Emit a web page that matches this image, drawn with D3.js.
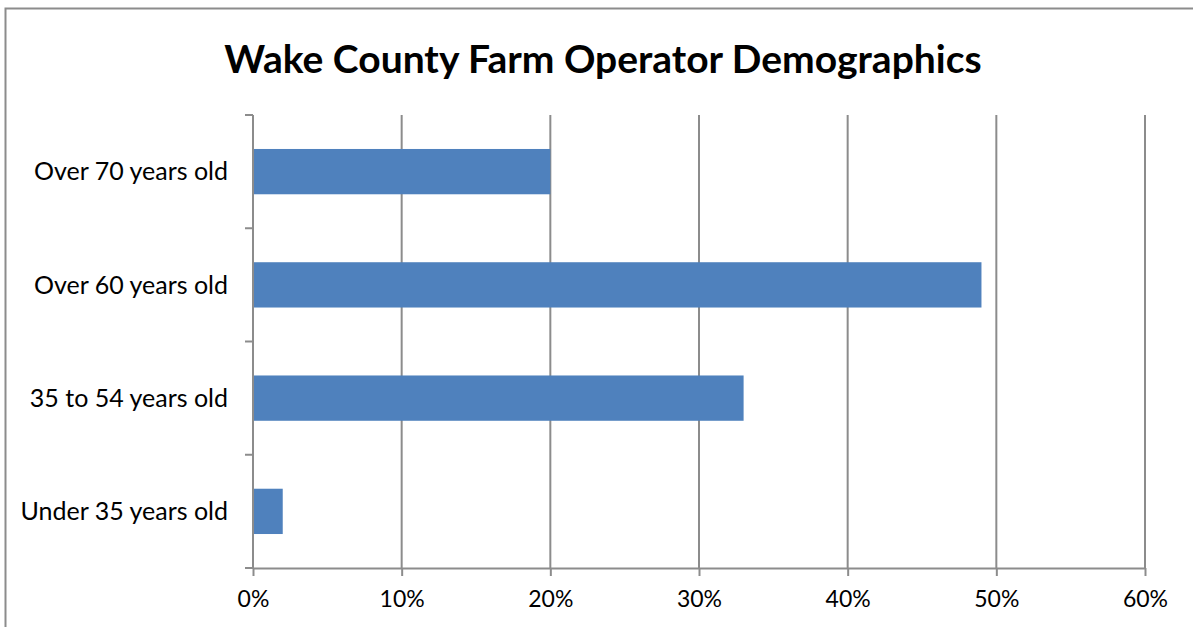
<!DOCTYPE html>
<meta charset="utf-8">
<html>
  <head>
    <title>Wake County Farm Operator Demographics</title>
    <style>
      body { margin: 0; background: #fff; }
      text { font-family: Lato, "Open Sans", sans-serif; fill: #000; }
      .grid line { stroke: #8c8c8c; stroke-width: 2px; }
      .axis path, .axis line { stroke: #8c8c8c; stroke-width: 2px; }
    </style>
    <script src="https://cdn.jsdelivr.net/npm/d3@7"></script>
  </head>
  <body>
    <div id="chart"></div>
    <script type="text/javascript">
    // data, bottom to top as in the picture
    var categories = ["Under 35 years old", "35 to 54 years old", "Over 60 years old", "Over 70 years old"];
    var values = [0.02, 0.33, 0.49, 0.20];
    var xTicks = [0, 0.1, 0.2, 0.3, 0.4, 0.5, 0.6];

    var width = 1193, height = 627;
    var plot = { left: 253, right: 1145, top: 115, bottom: 568 };

    var svg = d3.select("#chart").append("svg")
      .attr("width", width)
      .attr("height", height);

    // outer frame
    svg.append("rect")
      .attr("x", 5.5).attr("y", 8.5)
      .attr("width", 1200).attr("height", 700)
      .attr("fill", "none")
      .attr("stroke", "#8c8c8c")
      .attr("stroke-width", 2);

    svg.append("text")
      .attr("x", 603).attr("y", 73)
      .attr("text-anchor", "middle")
      .style("font-size", "39px")
      .style("font-weight", "bold")
      .text("Wake County Farm Operator Demographics");

    var x = d3.scaleLinear().domain([0, 0.6]).range([plot.left, plot.right]);
    var y = d3.scaleBand()
      .domain(categories.slice().reverse())
      .range([plot.top, plot.bottom])
      .paddingInner(0.6)
      .paddingOuter(0.3);

    // vertical gridlines
    svg.append("g").attr("class", "grid")
      .selectAll("line")
      .data(xTicks.slice(1))
      .enter().append("line")
      .attr("x1", function(d) { return x(d); })
      .attr("x2", function(d) { return x(d); })
      .attr("y1", plot.top)
      .attr("y2", plot.bottom);

    // bars
    svg.selectAll(".bar")
      .data(values)
      .enter().append("rect")
      .attr("class", "bar")
      .attr("x", x(0))
      .attr("y", function(d, i) { return y(categories[i]); })
      .attr("width", function(d) { return x(d) - x(0); })
      .attr("height", y.bandwidth())
      .attr("fill", "#4f81bd");

    // x axis
    var xAxis = svg.append("g").attr("class", "axis")
      .attr("transform", "translate(0," + plot.bottom + ")")
      .call(d3.axisBottom(x).tickValues(xTicks).tickFormat(d3.format(".0%")).tickSizeInner(8).tickSizeOuter(0).tickPadding(15));
    xAxis.selectAll("text").style("font-size", "23px").style("font-family", "Lato, sans-serif").attr("fill", "#000");

    // y axis with ticks between categories
    var yAxis = svg.append("g").attr("class", "axis")
      .attr("transform", "translate(" + plot.left + ",0)");
    yAxis.append("line")
      .attr("x1", 0).attr("x2", 0)
      .attr("y1", plot.top).attr("y2", plot.bottom);
    var step = (plot.bottom - plot.top) / categories.length;
    yAxis.selectAll(".ytick")
      .data(d3.range(categories.length + 1))
      .enter().append("line")
      .attr("x1", -8).attr("x2", 0)
      .attr("y1", function(i) { return plot.top + i * step; })
      .attr("y2", function(i) { return plot.top + i * step; });
    yAxis.selectAll(".ylabel")
      .data(categories)
      .enter().append("text")
      .attr("x", -25)
      .attr("y", function(d) { return y(d) + y.bandwidth() / 2; })
      .attr("dy", "0.35em")
      .attr("text-anchor", "end")
      .style("font-size", "25px")
      .text(function(d) { return d; });
    </script>
  </body>
</html>
